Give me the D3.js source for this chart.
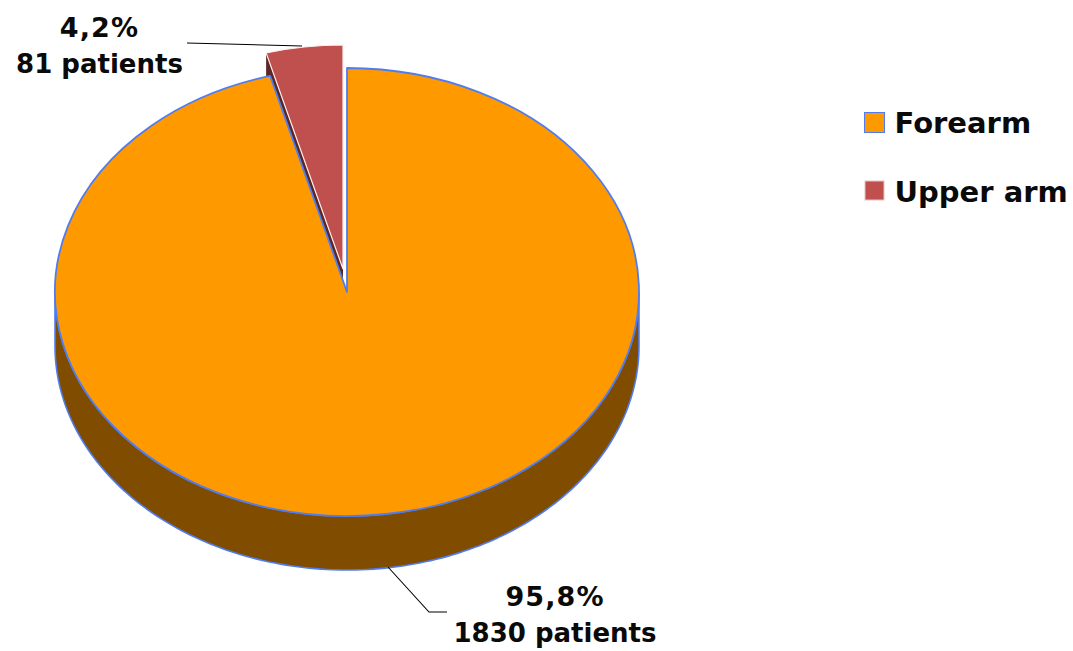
<!DOCTYPE html>
<html><head><meta charset="utf-8">
<script src="https://cdn.jsdelivr.net/npm/d3@7"></script>
<style>html,body{margin:0;padding:0;background:#fff}svg{display:block}
text{font-family:"DejaVu Sans",sans-serif;font-weight:bold;fill:#0a0a0a}</style>
</head><body><svg id="c" width="1073" height="651"></svg>
<script>
const categories = ["Forearm", "Upper arm"];
const patients = [1830, 81];
const percentLabels = ["95,8%", "4,2%"];
const patientLabels = ["1830 patients", "81 patients"];
const colors = ["#FF9900", "#C0504D"];
const wallColors = ["#7F4C00", "#5C2624"];
const edgeColor = "#4F7DF0";

const cx = 347, cy = 292, rx = 292, ry = 224, depth = 54;
const explode = [-4, -23];

const svg = d3.select("#c");
const pie = d3.pie().sort(null).startAngle(0).endAngle(2 * Math.PI);
const arcs = pie(patients);
const arc = d3.arc().innerRadius(0).outerRadius(rx);
const px = a => rx * Math.sin(a), py = a => -ry * Math.cos(a);
const line = d3.line();

// outer wall of the big slice: the front half of the ellipse, extruded down
const front = d3.range(Math.PI / 2, 3 * Math.PI / 2 + 0.001, 0.02);
const wallPts = front.map(a => [cx + px(a), cy + py(a)])
  .concat(front.slice().reverse().map(a => [cx + px(a), cy + py(a) + depth]));
svg.append("path").attr("d", line(wallPts) + "Z")
  .attr("fill", wallColors[0]).attr("stroke", edgeColor).attr("stroke-width", 1.6);

// cut face of the exploded slice
const cutAngle = arcs[1].startAngle;
const ax = cx + explode[0], ay = cy + explode[1];
const lx = ax + px(cutAngle), ly = ay + py(cutAngle);
svg.append("path")
  .attr("d", line([[lx, ly], [lx, ly + depth], [ax, ay + depth], [ax, ay]]) + "Z")
  .attr("fill", wallColors[1]);

// tops
svg.append("path").attr("d", arc(arcs[0]))
  .attr("transform", `translate(${cx},${cy}) scale(1,${ry / rx})`)
  .attr("fill", colors[0]).attr("stroke", edgeColor).attr("stroke-width", 1.8)
  .attr("stroke-linejoin", "round")
  .attr("vector-effect", "non-scaling-stroke");
svg.append("path").attr("d", arc(arcs[1]))
  .attr("transform", `translate(${ax},${ay}) scale(1,${ry / rx})`)
  .attr("fill", colors[1]).attr("stroke", "#fbeeee").attr("stroke-width", 1.2)
  .attr("vector-effect", "non-scaling-stroke");

// leader lines
const leaders = [
  [[388, 567], [429, 612], [447, 612]],
  [[187, 43], [302, 46]]
];
svg.selectAll("path.leader").data(leaders).join("path").attr("class", "leader")
  .attr("d", d => line(d)).attr("fill", "none").attr("stroke", "#000").attr("stroke-width", 1.1);

// data labels
const labelAnchor = [[555, 606, 642], [99.5, 37, 73]];
labelAnchor.forEach((p, i) => {
  svg.append("text").attr("x", p[0]).attr("y", p[1]).attr("text-anchor", "middle")
    .attr("font-size", 27).attr("letter-spacing", 1.1).text(percentLabels[i]);
  svg.append("text").attr("x", p[0]).attr("y", p[2]).attr("text-anchor", "middle")
    .attr("font-size", 26).text(patientLabels[i]);
});

// legend
const legendY = d3.scalePoint().domain(categories).range([133, 202]);
const leg = svg.selectAll("g.legend").data(categories).join("g").attr("class", "legend");
leg.append("rect").attr("x", (d, i) => i ? 865 : 864.5)
  .attr("y", (d, i) => legendY(d) - (i ? 21 : 20.5))
  .attr("width", (d, i) => i ? 19 : 20).attr("height", (d, i) => i ? 19 : 20)
  .attr("fill", (d, i) => colors[i])
  .attr("stroke", (d, i) => i ? "#e8c4c3" : edgeColor).attr("stroke-width", 1);
leg.append("text").attr("x", 894.5).attr("y", d => legendY(d)).attr("font-size", 29).text(d => d);
</script></body></html>
